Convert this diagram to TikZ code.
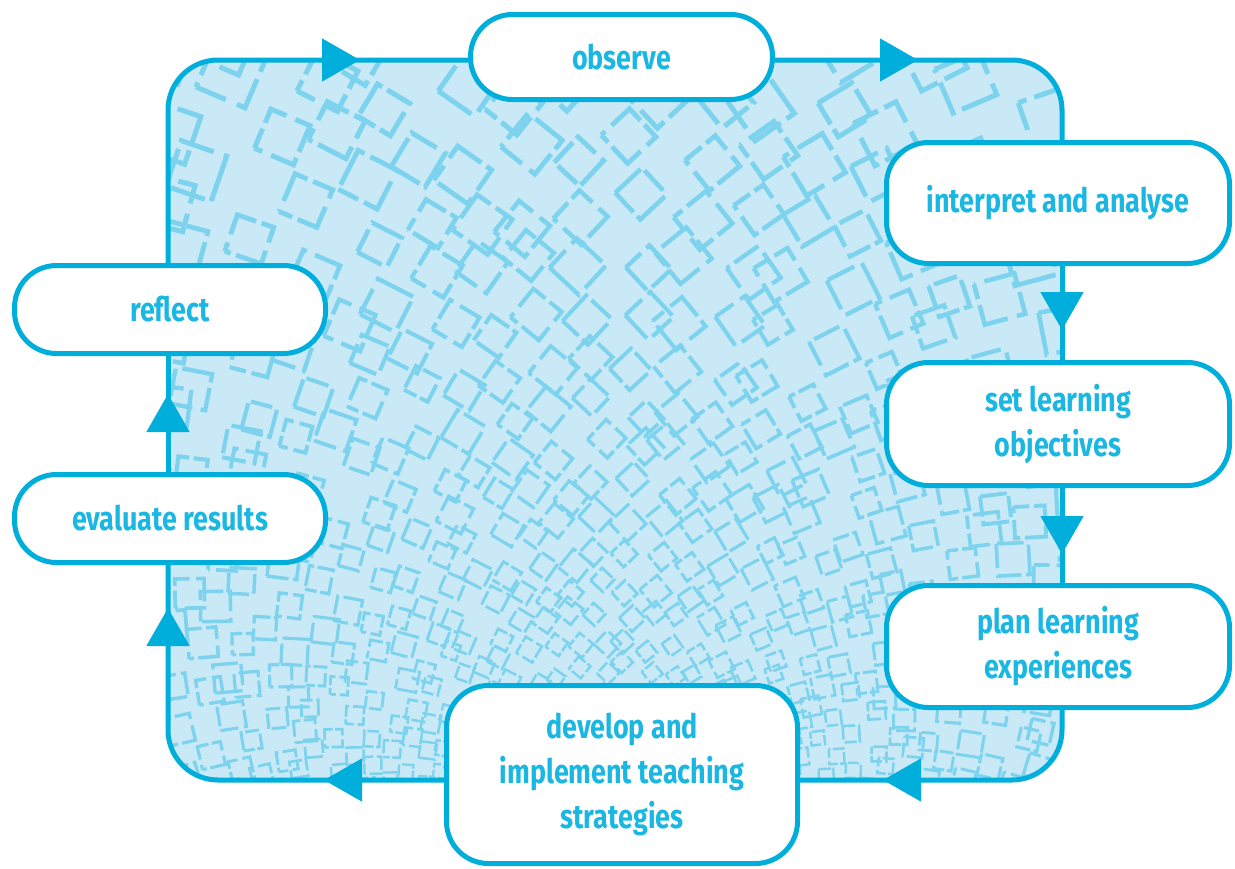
\documentclass[tikz,border=0pt]{standalone}
\usepackage{fontspec}
\setmainfont{Fira Sans}[FakeStretch=0.8]
\usetikzlibrary{arrows.meta,decorations.markings}
\definecolor{cycleblue}{HTML}{00AEDC}
\definecolor{labelblue}{HTML}{1BB7E3}
\definecolor{panelfill}{HTML}{C9E9F6}
\definecolor{tileblue}{HTML}{7DD2EE}
\tikzset{
  stagetip/.tip={Triangle[length=38pt,width=42pt]},
  stage/.style={draw=cycleblue, line width=5pt, fill=white, rounded corners=42pt,
    align=center, text=labelblue, inner sep=0pt,
    font=\fontsize{33.6}{45}\selectfont\bfseries},
  loopline/.style={draw=cycleblue, line width=5pt, rounded corners=50pt},
  flowat/.style={postaction={decorate, decoration={markings,
    mark=at position #1 with {\arrow[cycleblue]{stagetip}}}}},
  tile/.style={draw=tileblue}
}
\begin{document}
\begin{tikzpicture}[x=1pt,y=-1pt]
\useasboundingbox (0,0) rectangle (1235,868);
% corners of the cycle
\coordinate (tl) at (168,60);
\coordinate (tr) at (1062,60);
\coordinate (br) at (1062,780);
\coordinate (bl) at (168,780);

% textured panel
\begin{scope}
  \clip[rounded corners=50pt] (tl) rectangle (br);
  \fill[panelfill] (tl) rectangle (br);
  \pgfmathsetseed{7}
  \foreach \a in {-70,-66,...,70}{
    \foreach \k in {0,...,30}{
      \pgfmathsetmacro\r{150*1.075^\k}
      \pgfmathsetmacro\cx{615+\r*sin(\a)+0.02*\r*rand}
      \pgfmathsetmacro\cy{1000-\r*cos(\a)+0.02*\r*rand}
      \pgfmathsetmacro\s{0.024*\r*(0.85+0.3*rnd)}
      \pgfmathsetmacro\lw{min(5,1+0.0045*\r)}
      \pgfmathsetmacro\ph{8*\s*rnd}
      \draw[tile, line width=\lw pt, shift={(\cx,\cy)}, rotate=45-\a,
        dash pattern=on {2.1*\s}pt off {0.45*\s}pt on {1.5*\s}pt off {0.3*\s}pt,
        dash phase=\ph pt]
        (-\s,-\s) rectangle (\s,\s);
    }
  }
\end{scope}

% stages
\node[stage, minimum width=302pt, minimum height=85pt] (obs) at (621.5,57) {observe};
\node[stage, minimum width=343pt, minimum height=121pt] (int) at (1058,203) {interpret and analyse};
\node[stage, minimum width=343pt, minimum height=123pt] (obj) at (1058,424) {set learning\\objectives};
\node[stage, minimum width=343pt, minimum height=122pt] (plan) at (1058,646.5) {plan learning\\experiences};
\node[stage, minimum width=351pt, minimum height=178pt] (dev) at (622,774.5) {develop and\\implement teaching\\strategies};
\node[stage, minimum width=311pt, minimum height=88pt] (eval) at (170,518.5) {evaluate results};
\node[stage, minimum width=311pt, minimum height=88pt] (refl) at (170,309.5) {reflect};

% connectors around the cycle
\path[loopline, flowat=143pt] (obs.east |- tl) -- (tr) -- (int.north -| tr);
\path[loopline, flowat=64pt] (int.south -| tr) -- (obj.north -| tr);
\path[loopline, flowat=66pt] (obj.south -| tr) -- (plan.north -| tr);
\path[loopline, flowat=-83pt] (plan.south -| br) -- (br) -- (dev.east |- br);
\path[loopline, flowat=120pt, flowat=-43pt] (dev.west |- bl) -- (bl) -- (eval.south -| bl);
\path[loopline, flowat=78pt] (eval.north -| bl) -- (refl.south -| bl);
\path[loopline, flowat=-108pt] (refl.north -| tl) -- (tl) -- (obs.west |- tl);
\end{tikzpicture}
\end{document}
